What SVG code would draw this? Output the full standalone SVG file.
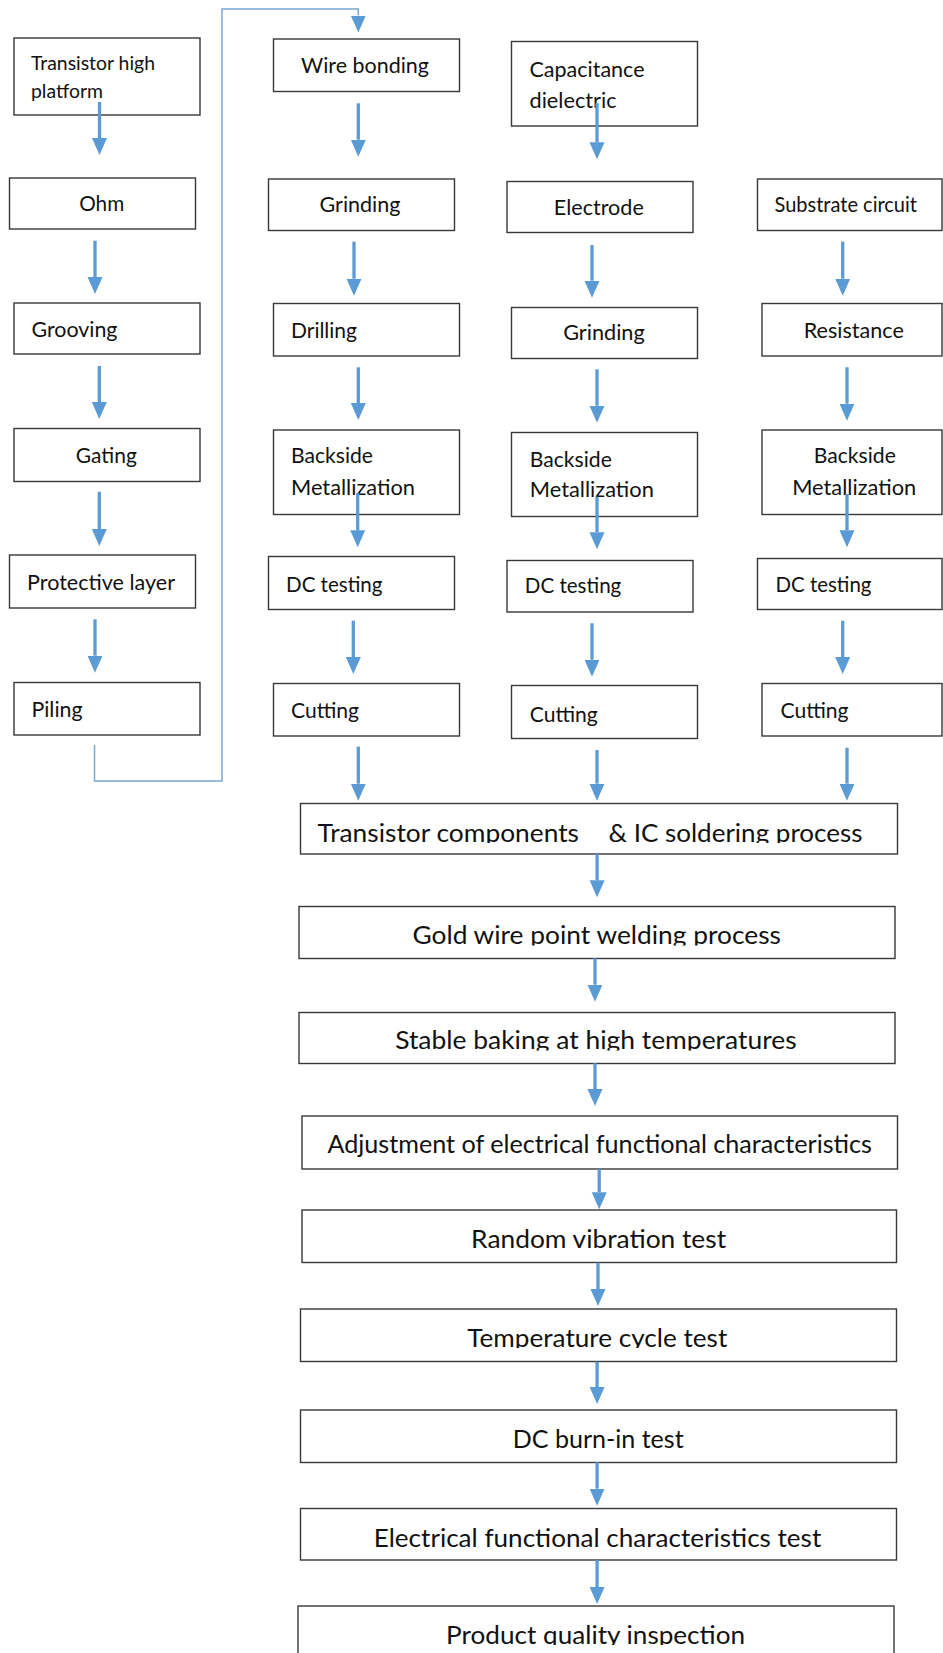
<svg xmlns="http://www.w3.org/2000/svg" width="943" height="1653" viewBox="0 0 943 1653">
<style>
.box{fill:#fff;stroke:#383838;stroke-width:1.4}
.t{font-family:Lato,"Liberation Sans",sans-serif;font-size:21.5px;fill:#111}
.ts{font-size:19.5px}
.tb{font-size:25px}
.m{text-anchor:middle}
.arr{stroke:#5b9bd5;stroke-width:3.3;fill:none;marker-end:url(#ah)}
.loop{stroke:#7ba7d7;stroke-width:1.5;fill:none;marker-end:url(#ah)}
</style>
<defs>
<marker id="ah" markerUnits="userSpaceOnUse" markerWidth="17" markerHeight="16" viewBox="0 0 17 16" refX="0" refY="8" orient="auto">
<path d="M0,0.5 L17,8 L0,15.5 z" fill="#5b9bd5"/>
</marker>
<clipPath id="c1"><rect x="300" y="803" width="598" height="40"/></clipPath>
<clipPath id="c2"><rect x="299" y="906" width="597" height="39.5"/></clipPath>
<clipPath id="c3"><rect x="299" y="1012" width="597" height="38.5"/></clipPath>
<clipPath id="c6"><rect x="300" y="1309" width="597" height="39"/></clipPath>
<clipPath id="c9"><rect x="298" y="1606" width="597" height="39"/></clipPath>
</defs>
<rect width="943" height="1653" fill="#fff"/>

<g id="n-transistor-high-platform"><rect class="box" x="14" y="38" width="186" height="77"/><text class="t ts" x="31" y="70" textLength="124" lengthAdjust="spacingAndGlyphs">Transistor high</text><text class="t ts" x="31" y="98" textLength="72" lengthAdjust="spacingAndGlyphs">platform</text></g>
<g id="n-ohm"><rect class="box" x="9.5" y="178" width="186" height="51"/><text class="t m" x="101.7" y="210.7" textLength="45" lengthAdjust="spacingAndGlyphs">Ohm</text></g>
<g id="n-grooving"><rect class="box" x="14" y="303" width="186" height="51"/><text class="t" x="31.5" y="336.7" textLength="86" lengthAdjust="spacingAndGlyphs">Grooving</text></g>
<g id="n-gating"><rect class="box" x="14" y="428.5" width="186" height="53"/><text class="t m" x="106.3" y="462.7" textLength="61" lengthAdjust="spacingAndGlyphs">Gating</text></g>
<g id="n-protective-layer"><rect class="box" x="9.5" y="555" width="186" height="53"/><text class="t" x="27" y="590" textLength="148" lengthAdjust="spacingAndGlyphs">Protective layer</text></g>
<g id="n-piling"><rect class="box" x="14" y="682.5" width="186" height="52.5"/><text class="t" x="31.5" y="717.3" textLength="51" lengthAdjust="spacingAndGlyphs">Piling</text></g>

<g id="n-wire-bonding"><rect class="box" x="273.5" y="39" width="186" height="52.5"/><text class="t" x="301" y="73.3" textLength="128" lengthAdjust="spacingAndGlyphs">Wire bonding</text></g>
<g id="n-grinding-1"><rect class="box" x="268.5" y="179" width="186" height="51.5"/><text class="t" x="319.5" y="212.3" textLength="81" lengthAdjust="spacingAndGlyphs">Grinding</text></g>
<g id="n-drilling"><rect class="box" x="273.5" y="303.5" width="186" height="52.5"/><text class="t" x="291" y="338.3" textLength="66" lengthAdjust="spacingAndGlyphs">Drilling</text></g>
<g id="n-backside-1"><rect class="box" x="273.5" y="430" width="186" height="84.5"/><text class="t" x="291" y="462.7" textLength="82" lengthAdjust="spacingAndGlyphs">Backside</text><text class="t" x="291" y="495" textLength="124" lengthAdjust="spacingAndGlyphs">Metallization</text></g>
<g id="n-dc-testing-1"><rect class="box" x="268.5" y="556.5" width="186" height="53"/><text class="t" x="286" y="591.7" textLength="96.5" lengthAdjust="spacingAndGlyphs">DC testing</text></g>
<g id="n-cutting-1"><rect class="box" x="273.5" y="683.5" width="186" height="52.5"/><text class="t" x="291" y="718.3" textLength="68" lengthAdjust="spacingAndGlyphs">Cutting</text></g>

<g id="n-capacitance-dielectric"><rect class="box" x="511.5" y="41.5" width="186" height="84.5"/><text class="t" x="529.5" y="76.7" textLength="115" lengthAdjust="spacingAndGlyphs">Capacitance</text><text class="t" x="529.5" y="108.3" textLength="87" lengthAdjust="spacingAndGlyphs">dielectric</text></g>
<g id="n-electrode"><rect class="box" x="507" y="181.5" width="186" height="51"/><text class="t" x="553.8" y="215" textLength="90" lengthAdjust="spacingAndGlyphs">Electrode</text></g>
<g id="n-grinding-2"><rect class="box" x="511.5" y="307.5" width="186" height="51"/><text class="t" x="563.2" y="340" textLength="81.5" lengthAdjust="spacingAndGlyphs">Grinding</text></g>
<g id="n-backside-2"><rect class="box" x="511.5" y="432.5" width="186" height="84"/><text class="t" x="529.8" y="466.7" textLength="82" lengthAdjust="spacingAndGlyphs">Backside</text><text class="t" x="529.8" y="497.3" textLength="124" lengthAdjust="spacingAndGlyphs">Metallization</text></g>
<g id="n-dc-testing-2"><rect class="box" x="507" y="560.5" width="186" height="51.5"/><text class="t" x="524.8" y="593.3" textLength="96.5" lengthAdjust="spacingAndGlyphs">DC testing</text></g>
<g id="n-cutting-2"><rect class="box" x="511.5" y="685.5" width="186" height="53"/><text class="t" x="529.8" y="721.7" textLength="68" lengthAdjust="spacingAndGlyphs">Cutting</text></g>

<g id="n-substrate-circuit"><rect class="box" x="757.5" y="179" width="184.5" height="51.5"/><text class="t" x="774.5" y="211.7" textLength="142.5" lengthAdjust="spacingAndGlyphs">Substrate circuit</text></g>
<g id="n-resistance"><rect class="box" x="762" y="303.5" width="180" height="52.5"/><text class="t" x="803.8" y="338.3" textLength="100" lengthAdjust="spacingAndGlyphs">Resistance</text></g>
<g id="n-backside-3"><rect class="box" x="762" y="430" width="180" height="84.5"/><text class="t" x="813.8" y="463.3" textLength="82" lengthAdjust="spacingAndGlyphs">Backside</text><text class="t" x="792.2" y="495" textLength="124" lengthAdjust="spacingAndGlyphs">Metallization</text></g>
<g id="n-dc-testing-3"><rect class="box" x="757.5" y="558.5" width="184.5" height="51"/><text class="t" x="775.5" y="591.7" textLength="96" lengthAdjust="spacingAndGlyphs">DC testing</text></g>
<g id="n-cutting-3"><rect class="box" x="762" y="683.5" width="180" height="52.5"/><text class="t" x="780.5" y="718.3" textLength="68" lengthAdjust="spacingAndGlyphs">Cutting</text></g>

<g id="n-soldering"><rect class="box" x="300.5" y="803.5" width="597" height="50.5"/><g clip-path="url(#c1)"><text class="t tb" x="317.5" y="841.7" textLength="261.5" lengthAdjust="spacingAndGlyphs">Transistor components</text><text class="t tb" x="608.5" y="841.7" textLength="254" lengthAdjust="spacingAndGlyphs">&amp; IC soldering process</text></g></g>
<g id="n-gold-wire"><rect class="box" x="299" y="906.5" width="596" height="52"/><text class="t tb m" clip-path="url(#c2)" x="596.7" y="944" textLength="368.5" lengthAdjust="spacingAndGlyphs">Gold wire point welding process</text></g>
<g id="n-stable-baking"><rect class="box" x="299" y="1012.5" width="596" height="51"/><text class="t tb m" clip-path="url(#c3)" x="595.9" y="1049.3" textLength="401.5" lengthAdjust="spacingAndGlyphs">Stable baking at high temperatures</text></g>
<g id="n-adjustment"><rect class="box" x="302" y="1116" width="595.5" height="53"/><text class="t tb m" x="599.7" y="1152.7" textLength="544.5" lengthAdjust="spacingAndGlyphs">Adjustment of electrical functional characteristics</text></g>
<g id="n-random-vibration"><rect class="box" x="302" y="1210" width="594.5" height="52.5"/><text class="t tb m" x="598.6" y="1248.3" textLength="255" lengthAdjust="spacingAndGlyphs">Random vibration test</text></g>
<g id="n-temperature-cycle"><rect class="box" x="300.5" y="1309" width="596" height="52.5"/><text class="t tb m" clip-path="url(#c6)" x="597.3" y="1346.7" textLength="260" lengthAdjust="spacingAndGlyphs">Temperature cycle test</text></g>
<g id="n-dc-burn-in"><rect class="box" x="300.5" y="1410" width="596" height="52.5"/><text class="t tb m" x="598.2" y="1448.3" textLength="171" lengthAdjust="spacingAndGlyphs">DC burn-in test</text></g>
<g id="n-electrical-test"><rect class="box" x="300.5" y="1508.5" width="596" height="51.5"/><text class="t tb m" x="597.5" y="1546.7" textLength="447.5" lengthAdjust="spacingAndGlyphs">Electrical functional characteristics test</text></g>
<g id="n-quality-inspection"><rect class="box" x="298" y="1606" width="596" height="60"/><text class="t tb m" clip-path="url(#c9)" x="595.6" y="1644" textLength="299" lengthAdjust="spacingAndGlyphs">Product quality inspection</text></g>

<g id="connectors">
<path class="loop" d="M94.5,745 V781 H222 V9 H358.3 V15.5"/>
<line class="arr" x1="99.5" y1="102" x2="99.5" y2="138"/>
<line class="arr" x1="95" y1="240.7" x2="95" y2="277"/>
<line class="arr" x1="99.3" y1="366" x2="99.3" y2="402"/>
<line class="arr" x1="99.3" y1="491.7" x2="99.3" y2="529"/>
<line class="arr" x1="95" y1="619.3" x2="95" y2="655.7"/>

<line class="arr" x1="358.3" y1="103.3" x2="358.3" y2="139.7"/>
<line class="arr" x1="354" y1="241.7" x2="354" y2="278.7"/>
<line class="arr" x1="358.3" y1="367.3" x2="358.3" y2="403"/>
<line class="arr" x1="357.7" y1="493.3" x2="357.7" y2="530.3"/>
<line class="arr" x1="353.3" y1="620.7" x2="353.3" y2="657"/>
<line class="arr" x1="358.3" y1="746.7" x2="358.3" y2="783.7"/>

<line class="arr" x1="597" y1="103.3" x2="597" y2="142.3"/>
<line class="arr" x1="592" y1="245" x2="592" y2="280.7"/>
<line class="arr" x1="597" y1="369.3" x2="597" y2="405.7"/>
<line class="arr" x1="597" y1="496.7" x2="597" y2="532.3"/>
<line class="arr" x1="592" y1="623.3" x2="592" y2="659.7"/>
<line class="arr" x1="597" y1="750" x2="597" y2="783.7"/>

<line class="arr" x1="842.7" y1="241.7" x2="842.7" y2="278.7"/>
<line class="arr" x1="847" y1="367.3" x2="847" y2="403.7"/>
<line class="arr" x1="847" y1="494" x2="847" y2="530.3"/>
<line class="arr" x1="842.7" y1="620.7" x2="842.7" y2="657"/>
<line class="arr" x1="847" y1="747.7" x2="847" y2="783.7"/>

<line class="arr" x1="597.1" y1="854" x2="597.1" y2="880.3"/>
<line class="arr" x1="595" y1="958.3" x2="595" y2="984.7"/>
<line class="arr" x1="595" y1="1063.3" x2="595" y2="1089"/>
<line class="arr" x1="599.2" y1="1169" x2="599.2" y2="1192.3"/>
<line class="arr" x1="598" y1="1262.7" x2="598" y2="1289"/>
<line class="arr" x1="597.1" y1="1361.7" x2="597.1" y2="1387"/>
<line class="arr" x1="597.1" y1="1462.3" x2="597.1" y2="1488.7"/>
<line class="arr" x1="597.1" y1="1560" x2="597.1" y2="1587"/>
</g>
</svg>
